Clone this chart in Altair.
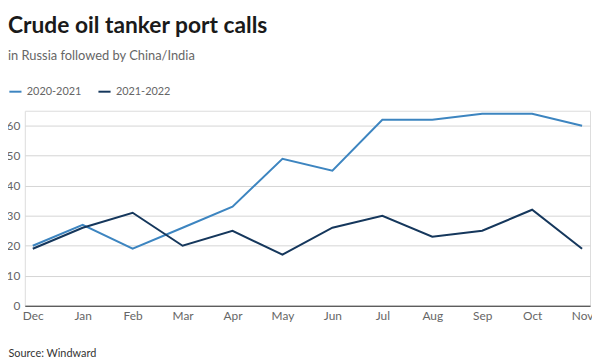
import altair as alt
import pandas as pd

months = ["Dec", "Jan", "Feb", "Mar", "Apr", "May", "Jun", "Jul", "Aug", "Sep", "Oct", "Nov"]
series_names = ["2020-2021", "2021-2022"]
calls_2020_2021 = [20, 27, 19, 26, 33, 49, 45, 62, 62, 64, 64, 60]
calls_2021_2022 = [19, 26, 31, 20, 25, 17, 26, 30, 23, 25, 32, 19]
y_ticks = [0, 10, 20, 30, 40, 50, 60]

rows = []
for m, v in zip(months, calls_2020_2021):
    rows.append({"month": m, "series": series_names[0], "calls": v})
for m, v in zip(months, calls_2021_2022):
    rows.append({"month": m, "series": series_names[1], "calls": v})
df = pd.DataFrame(rows)

FONT = "Lato"
GRAY = "#666666"
PW, PH = 571, 197

lines = alt.Chart(df).mark_line(strokeWidth=2).encode(
    x=alt.X("month:N", sort=months,
            scale=alt.Scale(type="point", padding=0.159),
            axis=alt.Axis(title="Source: Windward", labelAngle=0, labelFont=FONT,
                          labelFontSize=12, labelColor=GRAY, labelPadding=5,
                          ticks=False, domain=True, domainColor="#333333", domainWidth=1.2,
                          grid=False, titleFont=FONT, titleFontSize=11,
                          titleFontWeight="normal", titleColor="#333333",
                          titleAnchor="start", titleAlign="left", titleBaseline="alphabetic",
                          titleX=-17, titleY=51)),
    y=alt.Y("calls:Q", scale=alt.Scale(domain=[0, 65], nice=False),
            axis=alt.Axis(title=None, values=y_ticks, labelFont=FONT, labelFontSize=12,
                          labelColor=GRAY, labelPadding=5, ticks=False, domain=False,
                          grid=True, gridColor="#d4d4d4", gridWidth=1)),
    color=alt.Color("series:N", sort=series_names,
                    scale=alt.Scale(domain=series_names, range=["#3d85c0", "#15375c"]),
                    legend=alt.Legend(title=None, orient="none", direction="horizontal",
                                      legendX=-17, legendY=-27, symbolType="stroke",
                                      symbolSize=150, symbolStrokeWidth=2,
                                      labelFont=FONT, labelFontSize=11, labelColor=GRAY,
                                      columnPadding=12, labelOffset=4)),
)

chart = lines.properties(
    width=PW, height=PH,
    title=alt.Title("Crude oil tanker port calls",
                    subtitle="in Russia followed by China/India",
                    anchor="start", frame="group", dx=-17, offset=21,
                    font=FONT, fontSize=23, fontWeight="bold", color="#1a1a1a",
                    subtitleFont=FONT, subtitleFontSize=13, subtitleColor=GRAY,
                    subtitlePadding=13),
    autosize=alt.AutoSizeParams(type="none"),
    padding={"left": 17, "top": 102, "right": 2, "bottom": 52},
).configure_view(stroke=None).configure(background="white")

chart.save("out.html", embed_options={"renderer": "svg", "actions": False})
